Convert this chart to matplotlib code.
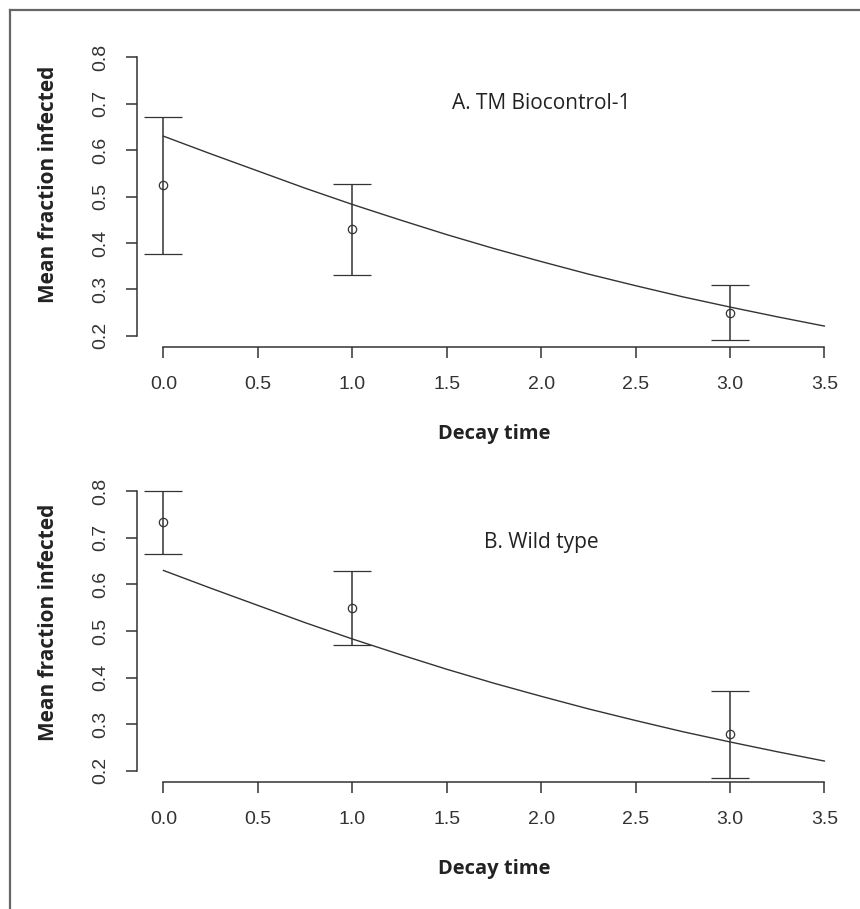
import matplotlib
matplotlib.use('Agg')
import matplotlib.pyplot as plt
from matplotlib.lines import Line2D

# fitted decay curve (same in both panels)
curve_t = [0.0, 0.25, 0.5, 0.75, 1.0, 1.25, 1.5, 1.75, 2.0, 2.25, 2.5, 2.75, 3.0, 3.25, 3.5]
curve_y = [0.630, 0.592, 0.555, 0.518, 0.483, 0.450, 0.418, 0.388, 0.360, 0.333, 0.308, 0.284, 0.262, 0.241, 0.221]

# observed means with error bar limits
obs_t = [0.0, 1.0, 3.0]
a_mean = [0.525, 0.430, 0.250]
a_low = [0.377, 0.332, 0.191]
a_high = [0.672, 0.528, 0.309]
b_mean = [0.735, 0.550, 0.278]
b_low = [0.665, 0.470, 0.185]
b_high = [0.800, 0.628, 0.372]

panel_titles = ['A. TM Biocontrol-1', 'B. Wild type']
xticks = [0.0, 0.5, 1.0, 1.5, 2.0, 2.5, 3.0, 3.5]
yticks = [0.2, 0.3, 0.4, 0.5, 0.6, 0.7, 0.8]

INK = '#333333'
fig = plt.figure(figsize=(8.6, 9.09), dpi=100)

# partial frame around the figure (left and top)
fig.add_artist(Line2D([10 / 860, 1.0], [1 - 10 / 909, 1 - 10 / 909], color='#666666', lw=1.6))
fig.add_artist(Line2D([10 / 860, 10 / 860], [0.0, 1 - 10 / 909], color='#666666', lw=1.6))

rects = [[0.1593, 0.6183, 0.830, 0.331], [0.1593, 0.1397, 0.830, 0.3322]]
data = [(a_mean, a_low, a_high), (b_mean, b_low, b_high)]
title_y = [0.70, 0.69]
ylab_y = [0.54, 0.53]

for rect, (mean, low, high), title, ty, ly in zip(rects, data, panel_titles, title_y, ylab_y):
    ax = fig.add_axes(rect)
    ax.plot(curve_t, curve_y, color=INK, lw=1.0)
    yerr = [[m - l for m, l in zip(mean, low)], [h - m for m, h in zip(mean, high)]]
    ax.errorbar(obs_t, mean, yerr=yerr, fmt='o', mfc='none', mec=INK, ms=6,
                mew=0.9, ecolor=INK, elinewidth=1.1, capsize=13.5, capthick=1.1)
    ax.text(2.0, ty, title, ha='center', va='center', fontsize=15,
            family='Open Sans', color='#222222')

    ax.set_xlim(-0.14, 3.64)
    ax.set_ylim(0.176, 0.824)
    for s in ['top', 'right']:
        ax.spines[s].set_visible(False)
    ax.spines['left'].set_bounds(0.2, 0.8)
    ax.spines['bottom'].set_bounds(0.0, 3.5)
    for s in ['left', 'bottom']:
        ax.spines[s].set_color(INK)
        ax.spines[s].set_linewidth(1.1)
    ax.set_xticks(xticks)
    ax.set_xticklabels([f'{v:.1f}' for v in xticks])
    ax.set_yticks(yticks)
    ax.set_yticklabels([f'{v:.1f}' for v in yticks])
    ax.tick_params(axis='both', length=8, width=1.1, color=INK, labelsize=14,
                   labelcolor='#333333')
    ax.tick_params(axis='x', pad=13)
    ax.tick_params(axis='y', pad=12, labelrotation=90)
    for lbl in ax.get_xticklabels() + ax.get_yticklabels():
        lbl.set_family('Liberation Sans')
    for lbl in ax.get_yticklabels():
        lbl.set_va('center')

    ax.set_xlabel('Decay time', fontsize=14.5, fontweight='bold', family='Open Sans',
                  color='#222222', labelpad=22)
    ax.set_ylabel('Mean fraction infected', fontsize=15, fontweight='bold',
                  family='Open Sans', color='#222222')
    ax.yaxis.set_label_coords((48 - 137) / 714, ly)
    ax.yaxis.label.set_va('center')

fig.savefig('out.png', dpi=100)
